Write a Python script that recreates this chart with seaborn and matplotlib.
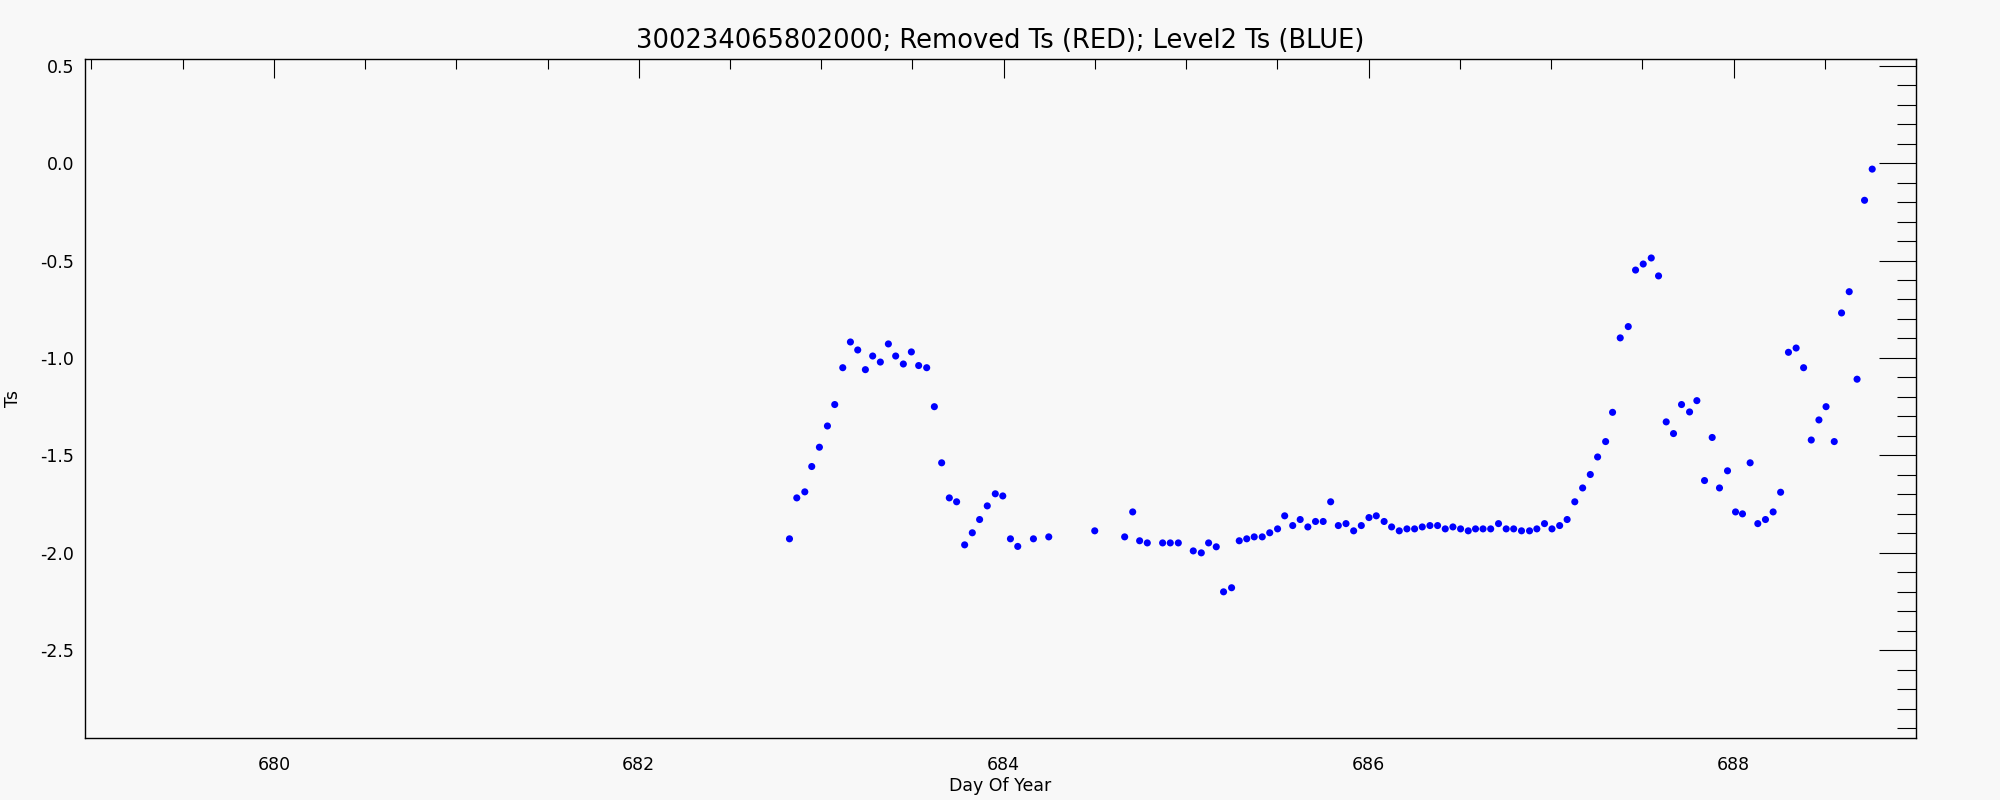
import matplotlib
matplotlib.use("Agg")
import matplotlib.pyplot as plt
from matplotlib.ticker import MultipleLocator
import pandas as pd
import seaborn as sns

# Level2 Ts samples (hourly)
day_of_year = [
    682.826, 682.866, 682.910, 682.948, 682.990, 683.034, 683.074, 683.118,
    683.160, 683.200, 683.242, 683.282, 683.324, 683.368, 683.408, 683.450,
    683.494, 683.534, 683.578, 683.620, 683.660, 683.702, 683.742, 683.786,
    683.828, 683.868, 683.910, 683.954, 683.995, 684.037, 684.077, 684.163,
    684.247, 684.499, 684.663, 684.707, 684.745, 684.787, 684.871, 684.913,
    684.957, 685.039, 685.083, 685.123, 685.165, 685.205, 685.249, 685.291,
    685.332, 685.373, 685.417, 685.458, 685.501, 685.540, 685.584, 685.625,
    685.667, 685.709, 685.751, 685.792, 685.834, 685.876, 685.918, 685.960,
    686.002, 686.042, 686.085, 686.126, 686.168, 686.210, 686.252, 686.294,
    686.336, 686.378, 686.420, 686.462, 686.504, 686.546, 686.586, 686.627,
    686.669, 686.712, 686.754, 686.795, 686.838, 686.882, 686.922, 686.964,
    687.005, 687.047, 687.088, 687.130, 687.173, 687.215, 687.255, 687.299,
    687.337, 687.379, 687.423, 687.463, 687.505, 687.549, 687.589, 687.631,
    687.671, 687.715, 687.759, 687.799, 687.841, 687.883, 687.923, 687.967,
    688.011, 688.049, 688.091, 688.133, 688.175, 688.217, 688.258, 688.301,
    688.343, 688.384, 688.426, 688.468, 688.507, 688.552, 688.592, 688.634,
    688.677, 688.718, 688.760,
]
ts = [
    -1.928, -1.718, -1.687, -1.557, -1.458, -1.349, -1.239, -1.050,
    -0.918, -0.959, -1.060, -0.990, -1.021, -0.928, -0.990, -1.031,
    -0.969, -1.039, -1.050, -1.250, -1.538, -1.718, -1.738, -1.959,
    -1.897, -1.829, -1.759, -1.697, -1.708, -1.928, -1.967, -1.928,
    -1.918, -1.887, -1.918, -1.790, -1.938, -1.949, -1.949, -1.949,
    -1.949, -1.990, -2.000, -1.949, -1.969, -2.200, -2.179, -1.938,
    -1.928, -1.918, -1.918, -1.897, -1.877, -1.810, -1.860, -1.829,
    -1.867, -1.839, -1.839, -1.738, -1.860, -1.850, -1.887, -1.860,
    -1.819, -1.810, -1.839, -1.867, -1.887, -1.877, -1.877, -1.867,
    -1.860, -1.860, -1.877, -1.867, -1.877, -1.887, -1.877, -1.877,
    -1.877, -1.850, -1.877, -1.877, -1.887, -1.887, -1.877, -1.850,
    -1.877, -1.860, -1.829, -1.738, -1.667, -1.598, -1.508, -1.429,
    -1.279, -0.897, -0.839, -0.549, -0.518, -0.487, -0.579, -1.328,
    -1.388, -1.239, -1.277, -1.219, -1.629, -1.408, -1.667, -1.579,
    -1.790, -1.800, -1.538, -1.850, -1.829, -1.790, -1.689, -0.971,
    -0.949, -1.050, -1.421, -1.318, -1.250, -1.429, -0.769, -0.660,
    -1.109, -0.191, -0.031,
]

buoy_id = "300234065802000"
title = f"{buoy_id}; Removed Ts (RED); Level2 Ts (BLUE)"

sns.set_theme(style="white")
plt.rcParams["font.family"] = ["DejaVu Sans"]
plt.rcParams["axes.unicode_minus"] = False

bg = "#f8f8f8"
fig = plt.figure(figsize=(20, 8), dpi=100, facecolor=bg)
ax = fig.add_axes([0.0425, 0.0775, 0.9155, 0.849])
ax.set_facecolor(bg)

df = pd.DataFrame({"day": day_of_year, "ts": ts})
sns.scatterplot(data=df, x="day", y="ts", ax=ax, color="#0000ff",
                s=26, linewidth=0, edgecolor="none")

ax.set_xlim(678.965, 689.0)
ax.set_ylim(-2.95, 0.535)

ax.xaxis.set_major_locator(MultipleLocator(2))
ax.xaxis.set_minor_locator(MultipleLocator(0.5))
ax.yaxis.set_major_locator(MultipleLocator(0.5))
ax.yaxis.set_minor_locator(MultipleLocator(0.1))
ax.yaxis.set_major_formatter(lambda v, p: f"{v:.1f}")

for side in ax.spines.values():
    side.set_color("black")
    side.set_linewidth(1.0)

ax.tick_params(axis="both", which="both", direction="in", color="black",
               width=0.8, top=True, right=True, labelsize=12.5,
               labelcolor="black")
ax.tick_params(axis="x", which="major", length=14, pad=13)
ax.tick_params(axis="x", which="minor", length=7)
ax.tick_params(axis="y", which="major", length=27, pad=8)
ax.tick_params(axis="y", which="minor", length=14)

ax.set_title(title, fontsize=18.5, pad=8, color="black")
ax.set_xlabel("Day Of Year", fontsize=12.5, labelpad=2, color="black")
ax.set_ylabel("Ts", fontsize=12.5, labelpad=13, color="black")

fig.savefig("out.png", dpi=100, facecolor=bg)
plt.close(fig)
